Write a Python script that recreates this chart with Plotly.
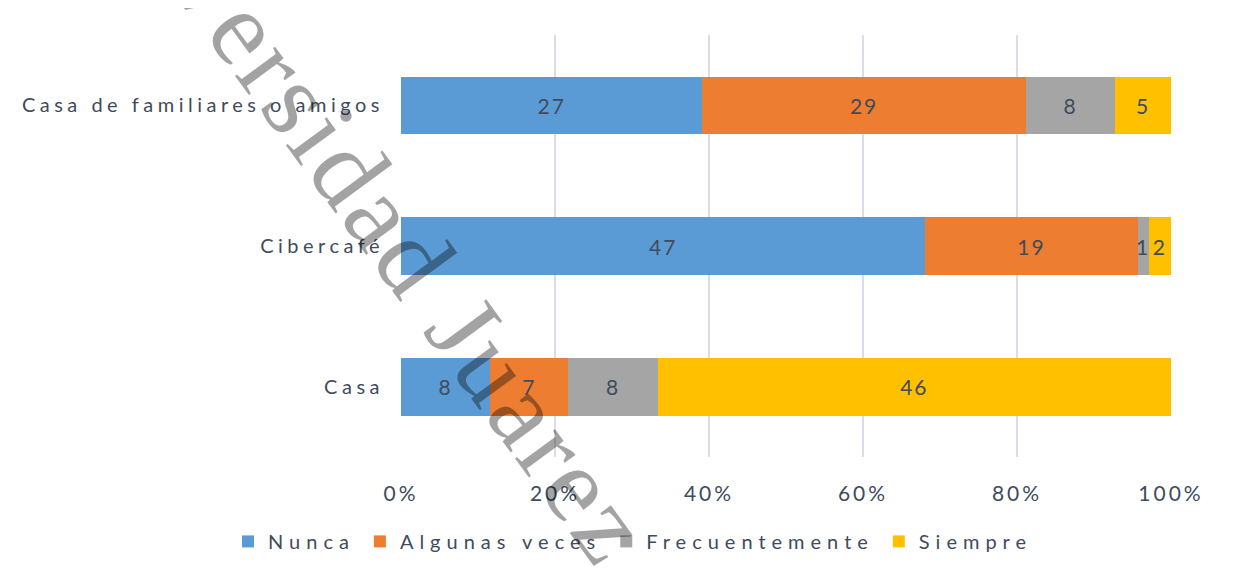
import plotly.graph_objects as go

categories = ["Casa", "Cibercafé", "Casa de familiares o amigos"]
series_names = ["Nunca", "Algunas veces", "Frecuentemente", "Siempre"]
nunca = [8, 47, 27]
algunas = [7, 19, 29]
frecuente = [8, 1, 8]
siempre = [46, 2, 5]
x_ticks = [0, 20, 40, 60, 80, 100]
x_tick_labels = ["0%", "20%", "40%", "60%", "80%", "100%"]
watermark = "Universidad Juarez Autonoma de Tabasco"

colors = ["#5B9BD5", "#ED7D31", "#A5A5A5", "#FFC000"]
text_color = "#404B5C"
FONT = "Lato"

def spaced(s, ls):
    return f'<span style="letter-spacing:{ls}px">{s}</span>'

fig = go.Figure()
for name, vals, col in zip(series_names, [nunca, algunas, frecuente, siempre], colors):
    fig.add_trace(go.Bar(
        y=categories, x=vals, orientation="h", name=spaced(name, 6),
        marker=dict(color=col, line=dict(width=0)),
        text=[spaced(str(v), 2) for v in vals],
        textposition="inside", insidetextanchor="middle", textangle=0,
        textfont=dict(family=FONT, size=21, color=text_color),
        constraintext="none",
    ))

OFF = 8  # page body margin
WIN_W, WIN_H = 1245, 581
W, H = WIN_W - 2 * OFF, WIN_H - 2 * OFF
# plot area in window pixels
PX0, PX1, PY0, PY1 = 401, 1171, 35, 460
L, R = PX0 - OFF, W - (PX1 - OFF)
T, B = PY0 - OFF, H - (PY1 - OFF)
pw, ph = PX1 - PX0, PY1 - PY0

def px_x(px):
    return (px - PX0) / pw

def px_y(py):
    return (PY1 - py) / ph

fig.update_layout(
    width=W, height=H,
    margin=dict(l=L, r=R, t=T, b=B),
    barmode="stack", barnorm="percent", bargap=0.59,
    plot_bgcolor="white", paper_bgcolor="white",
    uniformtext=dict(minsize=21, mode="show"),
    showlegend=True,
    legend=dict(orientation="h", xref="paper", yref="paper",
                x=px_x(228), xanchor="left", y=px_y(545), yanchor="middle",
                font=dict(family=FONT, size=20, color=text_color),
                traceorder="normal", itemwidth=30, bgcolor="rgba(0,0,0,0)"),
    xaxis=dict(range=[0, 100], tickvals=x_ticks,
               ticktext=[spaced(t, 3) for t in x_tick_labels],
               showgrid=True, gridcolor="#D9DEE6", gridwidth=2,
               zeroline=False, showline=False, ticks="",
               ticklabelstandoff=22,
               tickfont=dict(family=FONT, size=21, color=text_color)),
    yaxis=dict(tickvals=categories,
               ticktext=[spaced(c, 4.5) for c in categories],
               showgrid=False, zeroline=False, showline=False, ticks="",
               ticklabelstandoff=16,
               tickfont=dict(family=FONT, size=20, color=text_color)),
    shapes=[dict(type="rect", xref="paper", yref="paper",
                 x0=px_x(7), x1=px_x(1243), y0=px_y(600), y1=px_y(7),
                 line=dict(color="#D9D9D9", width=1.5), layer="below")],
    annotations=[dict(text=spaced(watermark, 3.9), xref="paper", yref="paper",
                      x=px_x(675), y=px_y(620), xanchor="center", yanchor="middle",
                      textangle=53.8, showarrow=False,
                      font=dict(family="Liberation Serif", size=108,
                                color="rgba(0,0,0,0.36)"))],
)

fig.write_html("out.html")
